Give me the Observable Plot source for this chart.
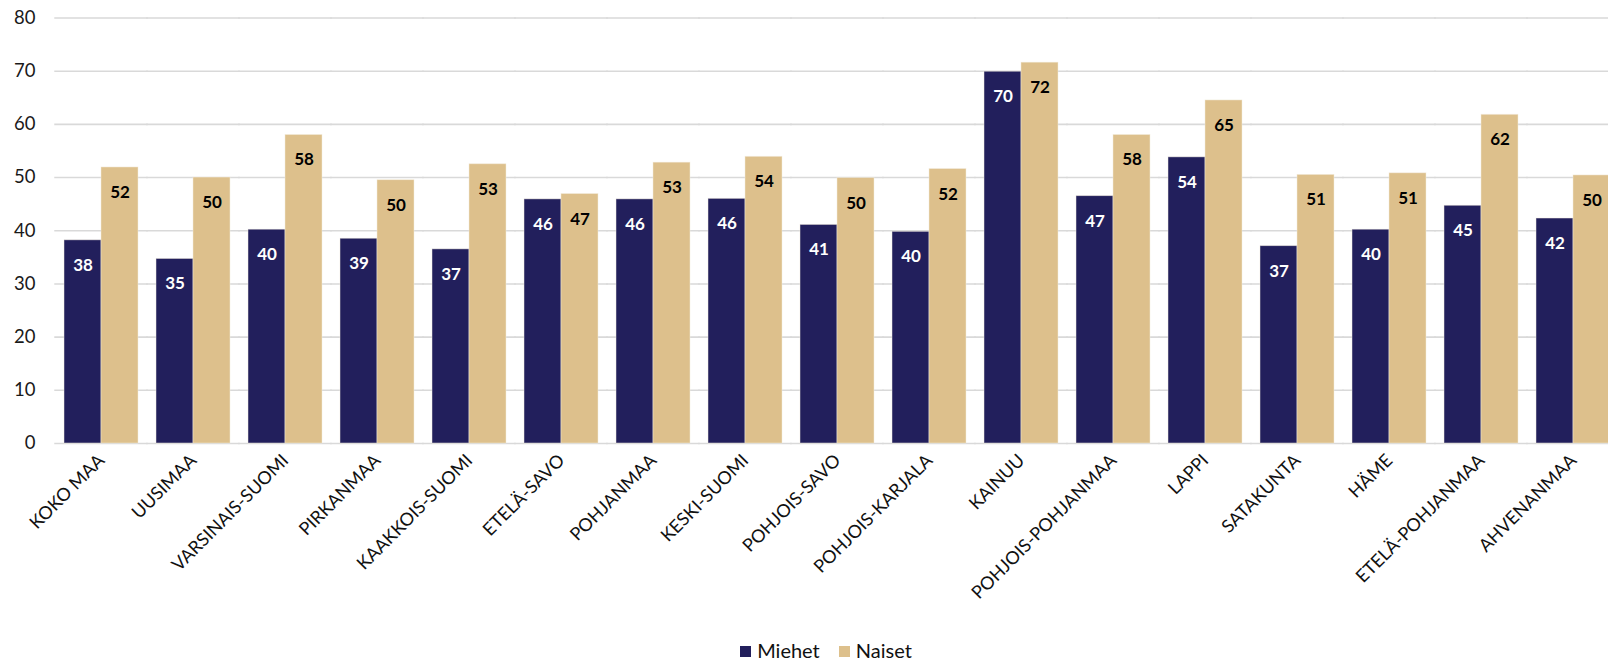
<!DOCTYPE html>
<html>
<head>
<meta charset="utf-8">
<script src="https://cdn.jsdelivr.net/npm/d3@7"></script>
<script src="https://cdn.jsdelivr.net/npm/@observablehq/plot@0.6"></script>
<style>
  html, body { margin: 0; padding: 0; background: #fff; overflow: hidden; }
  #wrap { width: 1608px; overflow: hidden; font-family: Lato, "Open Sans", sans-serif; }
  #legend { display: flex; justify-content: center; align-items: center; gap: 19px; font-size: 20px; color: #111; height: 30px; margin-left: 44px; }
  #legend span.sw { display: inline-block; width: 11px; height: 11px; margin-right: 6px; margin-top: 2px; }
  #legend .item { display: flex; align-items: center; }
</style>
</head>
<body>
<div id="wrap">
  <div id="chart"></div>
  <div id="legend"></div>
</div>
<script>
const regions = ["KOKO MAA", "UUSIMAA", "VARSINAIS-SUOMI", "PIRKANMAA", "KAAKKOIS-SUOMI", "ETELÄ-SAVO", "POHJANMAA", "KESKI-SUOMI", "POHJOIS-SAVO", "POHJOIS-KARJALA", "KAINUU", "POHJOIS-POHJANMAA", "LAPPI", "SATAKUNTA", "HÄME", "ETELÄ-POHJANMAA", "AHVENANMAA"];
const miehet = [38.2, 34.7, 40.2, 38.5, 36.5, 45.9, 45.9, 46.0, 41.1, 39.8, 69.9, 46.5, 53.8, 37.1, 40.2, 44.7, 42.3];
const naiset = [51.9, 50.0, 58.0, 49.5, 52.5, 46.9, 52.8, 53.9, 49.9, 51.6, 71.6, 58.0, 64.5, 50.5, 50.8, 61.8, 50.4];
const seriesNames = ["Miehet", "Naiset"];
const seriesColors = ["#221f5c", "#ddc08c"];
const labelColors = ["#ffffff", "#000000"];
const yTicks = [0, 10, 20, 30, 40, 50, 60, 70, 80];

const data = [];
regions.forEach((r, i) => {
  data.push({region: r, series: "Miehet", value: miehet[i]});
  data.push({region: r, series: "Naiset", value: naiset[i]});
});

const W = 1608, H = 635;
const step = 92.2;
const gapHalf = step * 0.2 / 2 + 0.5;
const chart = Plot.plot({
  width: W,
  height: H,
  marginLeft: 53,
  marginRight: 0,
  marginTop: 17.5,
  marginBottom: 192,
  style: {fontFamily: "Lato, 'Open Sans', sans-serif", background: "#fff", overflow: "hidden"},
  fx: {domain: regions, range: [53, 53 + 17 * step], paddingInner: 0.2, paddingOuter: 0.1, label: null},
  x: {domain: seriesNames, padding: 0, axis: null},
  y: {domain: [0, 80], label: null, axis: null},
  color: {domain: seriesNames, range: seriesColors},
  marks: [
    Plot.ruleY(yTicks, {stroke: "#d9d9d9", strokeWidth: 1.6, insetLeft: -gapHalf, insetRight: -gapHalf}),
    Plot.axisY(yTicks, {tickSize: 0, tickPadding: 29, fontSize: 18.5, fill: "#1a1a1a", label: null}),
    Plot.barY(data, {fx: "region", x: "series", y: "value", fill: "series", stroke: "#f3ecdf", strokeWidth: 0.8, strokeOpacity: 0.6}),
    Plot.text(data, {fx: "region", x: "series", y: "value", text: d => Math.round(d.value).toString(), dy: 25, lineAnchor: "middle", fontSize: 17, fontWeight: "bold", fill: d => labelColors[seriesNames.indexOf(d.series)]}),
    Plot.axisFx({anchor: "bottom", tickSize: 0, tickPadding: 14, tickRotate: -45, fontSize: 18, fill: "#111", label: null})
  ]
});
document.getElementById("chart").appendChild(chart);

const legend = document.getElementById("legend");
seriesNames.forEach((s, i) => {
  const item = document.createElement("div");
  item.className = "item";
  const sw = document.createElement("span");
  sw.className = "sw";
  sw.style.background = seriesColors[i];
  item.appendChild(sw);
  item.appendChild(document.createTextNode(s));
  legend.appendChild(item);
});
</script>
</body>
</html>
